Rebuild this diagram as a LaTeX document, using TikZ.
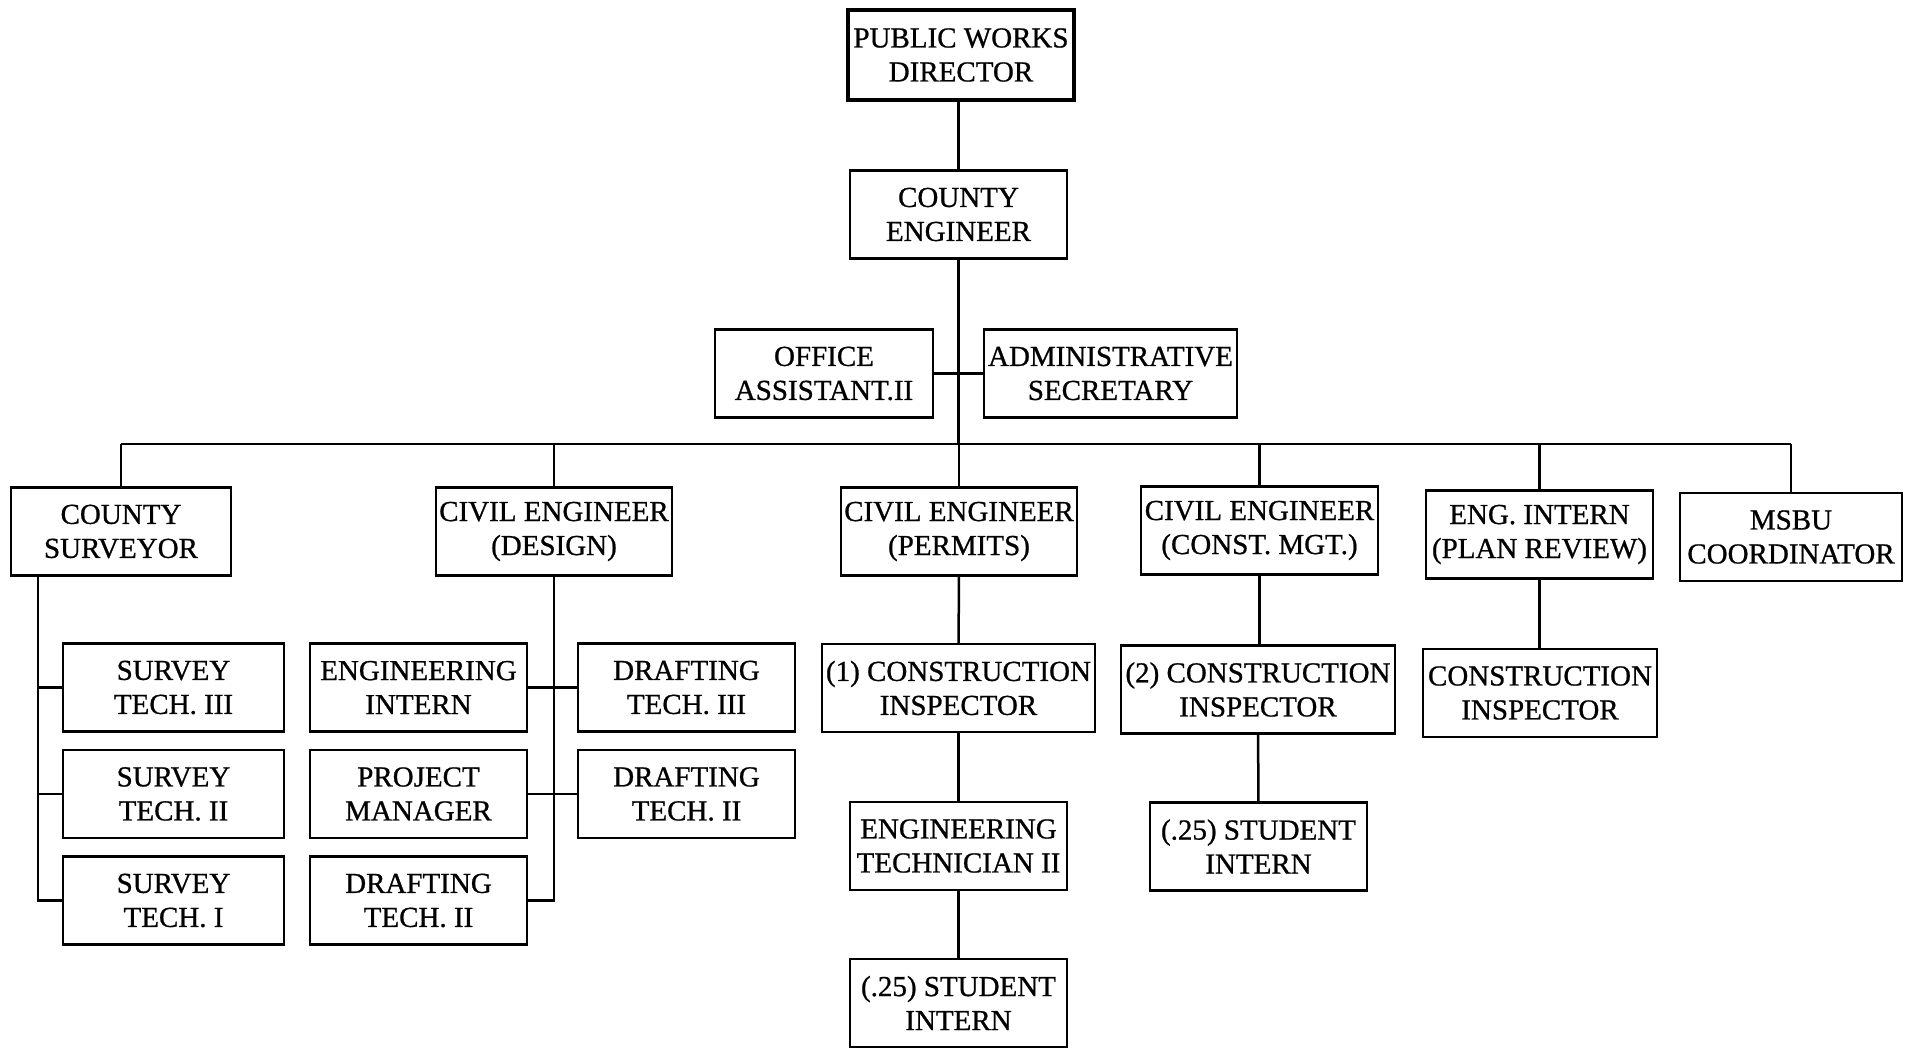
\documentclass[tikz,border=0pt]{standalone}
\usepackage{fontspec}
\setmainfont{Liberation Serif}[FakeBold=0.8]
\tikzset{
  box/.style={draw, line width=2.5pt, align=center, inner sep=0pt,
    minimum height=88pt, font=\fontsize{29}{34}\selectfont},
  link/.style={line width=2.5pt}
}
\begin{document}
\begin{tikzpicture}[x=1pt,y=-1pt]
  \useasboundingbox (0,0) rectangle (1909,1049);

  % Top of the chart
  \node[box, line width=4.5pt, minimum width=226pt, minimum height=90pt] (pwd) at (961,55) {PUBLIC WORKS\\DIRECTOR};
  \node[box, minimum width=217pt] (ceng) at (958.5,214.5) {COUNTY\\ENGINEER};
  \node[box, minimum width=218pt] (offasst) at (824,373.5) {OFFICE\\ASSISTANT.II};
  \node[box, minimum width=253pt] (admsec) at (1110.5,373.5) {ADMINISTRATIVE\\SECRETARY};

  % Division heads
  \node[box, minimum width=220pt] (csurv) at (121,531.5) {COUNTY\\SURVEYOR};
  \node[box, minimum width=236pt] (cedes) at (554,531.5) {CIVIL ENGINEER\\(DESIGN)};
  \node[box, minimum width=236pt] (ceper) at (959,531.5) {CIVIL ENGINEER\\(PERMITS)};
  \node[box, minimum width=237pt] (cecon) at (1259.5,530.5) {CIVIL ENGINEER\\(CONST. MGT.)};
  \node[box, minimum width=227pt] (engint) at (1539.5,534.5) {ENG. INTERN\\(PLAN REVIEW)};
  \node[box, minimum width=222pt] (msbu) at (1791,537) {MSBU\\COORDINATOR};

  % Survey staff
  \node[box, minimum width=221pt] (stthree) at (173.5,687.5) {SURVEY\\TECH. III};
  \node[box, minimum width=221pt] (sttwo) at (173.5,794) {SURVEY\\TECH. II};
  \node[box, minimum width=221pt] (stone) at (173.5,900.5) {SURVEY\\TECH. I};

  % Design staff
  \node[box, minimum width=217pt] (enint) at (418.5,687.5) {ENGINEERING\\INTERN};
  \node[box, minimum width=217pt] (projman) at (418.5,794) {PROJECT\\MANAGER};
  \node[box, minimum width=217pt] (dtwoa) at (418.5,900.5) {DRAFTING\\TECH. II};
  \node[box, minimum width=217pt] (dthree) at (686.5,687.5) {DRAFTING\\TECH. III};
  \node[box, minimum width=217pt] (dtwob) at (686.5,794) {DRAFTING\\TECH. II};

  % Permits staff
  \node[box, minimum width=273pt] (cinsone) at (958.5,688) {(1) CONSTRUCTION\\INSPECTOR};
  \node[box, minimum width=217pt] (etech) at (958.5,846) {ENGINEERING\\TECHNICIAN II};
  \node[box, minimum width=217pt] (stuone) at (958.5,1003) {(.25) STUDENT\\INTERN};

  % Construction management staff
  \node[box, minimum width=274pt] (cinstwo) at (1258,689.5) {(2) CONSTRUCTION\\INSPECTOR};
  \node[box, minimum width=217pt] (stutwo) at (1258.5,846.5) {(.25) STUDENT\\INTERN};

  % Plan review staff
  \node[box, minimum width=234pt] (cinsthree) at (1540,693) {CONSTRUCTION\\INSPECTOR};

  % Main trunk and bus
  \coordinate (busl) at (121,444);
  \coordinate (busr) at (1791,444);
  \draw[link] (ceng.north |- pwd.south) -- (ceng.north);
  \draw[link] (ceng.south) -- (ceng.south |- busl);
  \draw[link] (offasst.east) -- (admsec.west);
  \draw[link] (busl) -- (busr);
  \foreach \n in {csurv,cedes,ceper,cecon,engint,msbu}
    \draw[link] (\n.north) -- (\n.north |- busl);

  % Survey branch
  \coordinate (sline) at (38,0);
  \draw[link] (csurv.south -| sline) -- (sline |- stone.west) -- (stone.west);
  \draw[link] (sline |- stthree.west) -- (stthree.west);
  \draw[link] (sline |- sttwo.west) -- (sttwo.west);

  % Design branch
  \draw[link] (cedes.south) -- (cedes.south |- dtwoa.east) -- (dtwoa.east);
  \draw[link] (enint.east) -- (dthree.west);
  \draw[link] (projman.east) -- (dtwob.west);

  % Other branches
  \draw[link] (ceper) -- (cinsone);
  \draw[link] (cinsone) -- (etech);
  \draw[link] (etech) -- (stuone);
  \draw[link] (cecon.south) -- (cecon.south |- cinstwo.north);
  \draw[link] (cinstwo) -- (stutwo);
  \draw[link] (engint.south) -- (engint.south |- cinsthree.north);
\end{tikzpicture}
\end{document}
